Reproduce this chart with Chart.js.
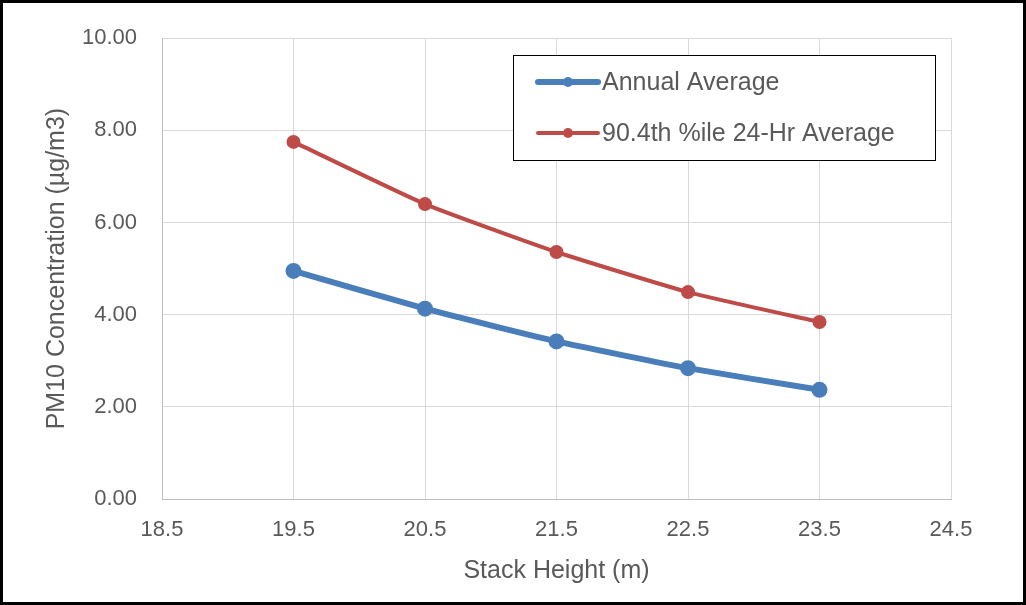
<!DOCTYPE html>
<html>
<head>
<meta charset="utf-8">
<title>PM10 Concentration vs Stack Height</title>
<script src="https://cdn.jsdelivr.net/npm/chart.js@4.4.1/dist/chart.umd.min.js"></script>
<style>
    html, body { margin: 0; padding: 0; background: #fff; }
    canvas { display: block; }
</style>
</head>
<body>
<canvas id="pmChart" width="1026" height="605"></canvas>
<script>
// ---- Data ----
const stackHeights = [19.5, 20.5, 21.5, 22.5, 23.5];
const annualAverage = [4.95, 4.13, 3.42, 2.84, 2.37];
const pctile24Hr = [7.75, 6.40, 5.36, 4.49, 3.84];
const seriesNames = ['Annual Average', '90.4th %ile 24-Hr Average'];

// ---- Style ----
const TEXT = '#595959';
const GRID = '#d9d9d9';
const BLUE = '#4a7ebb';
const RED = '#be4b48';
const FONT = 'Arial, "Liberation Sans", sans-serif';

function toPoints(values) {
    return stackHeights.map((x, i) => ({ x: x, y: values[i] }));
}

// white background + black frame round the picture
const framePlugin = {
    id: 'frame',
    beforeDraw(chart) {
        const ctx = chart.ctx;
        ctx.save();
        ctx.fillStyle = '#fff';
        ctx.fillRect(0, 0, chart.width, chart.height);
        ctx.restore();
    },
    afterDraw(chart) {
        const ctx = chart.ctx;
        ctx.save();
        ctx.strokeStyle = '#000';
        ctx.lineWidth = 3;
        ctx.strokeRect(1.5, 1.5, chart.width - 3, chart.height - 3);
        ctx.restore();
    }
};

// boxed legend sitting inside the plot, top right
const boxLegendPlugin = {
    id: 'boxLegend',
    afterDatasetsDraw(chart) {
        const ctx = chart.ctx;
        const box = { x: 513, y: 55, w: 422, h: 105 };
        ctx.save();
        ctx.fillStyle = '#fff';
        ctx.fillRect(box.x, box.y, box.w, box.h);
        ctx.strokeStyle = '#000';
        ctx.lineWidth = 1;
        ctx.strokeRect(box.x + 0.5, box.y + 0.5, box.w, box.h);

        chart.data.datasets.forEach((ds, i) => {
            const y = box.y + 27 + i * 51;
            const x0 = box.x + 25;
            ctx.strokeStyle = ds.borderColor;
            ctx.lineWidth = ds.borderWidth;
            ctx.lineCap = 'round';
            ctx.beginPath();
            ctx.moveTo(x0, y);
            ctx.lineTo(x0 + 60, y);
            ctx.stroke();
            ctx.fillStyle = ds.pointBackgroundColor;
            ctx.beginPath();
            ctx.arc(x0 + 30, y, ds.pointRadius, 0, Math.PI * 2);
            ctx.fill();

            ctx.fillStyle = TEXT;
            ctx.font = '25px ' + FONT;
            ctx.textAlign = 'left';
            ctx.textBaseline = 'middle';
            ctx.fillText(ds.label, x0 + 64, y + 1);
        });
        ctx.restore();
    }
};

new Chart(document.getElementById('pmChart'), {
    type: 'line',
    data: {
        datasets: [
            {
                label: seriesNames[0],
                data: toPoints(annualAverage),
                borderColor: BLUE,
                backgroundColor: BLUE,
                pointBackgroundColor: BLUE,
                pointBorderColor: BLUE,
                borderWidth: 6,
                pointRadius: 5,
                tension: 0.15
            },
            {
                label: seriesNames[1],
                data: toPoints(pctile24Hr),
                borderColor: RED,
                backgroundColor: RED,
                pointBackgroundColor: RED,
                pointBorderColor: RED,
                borderWidth: 4,
                pointRadius: 5,
                tension: 0.15
            }
        ]
    },
    options: {
        responsive: false,
        animation: false,
        layout: { padding: { top: 34, right: 75, bottom: 15, left: 0 } },
        plugins: {
            legend: { display: false },
            tooltip: { enabled: false }
        },
        scales: {
            x: {
                type: 'linear',
                min: 18.5,
                max: 24.5,
                ticks: {
                    stepSize: 1,
                    color: TEXT,
                    padding: 18,
                    font: { family: FONT, size: 22 },
                    callback: v => v.toFixed(1)
                },
                grid: { color: GRID, drawTicks: false },
                border: { color: '#bfbfbf' },
                title: {
                    display: true,
                    text: 'Stack Height (m)',
                    color: TEXT,
                    font: { family: FONT, size: 25 },
                    padding: { top: 0, bottom: 4 }
                },
                afterFit(scale) { scale.height = 605 - 499 - 15; }
            },
            y: {
                min: 0,
                max: 10,
                ticks: {
                    stepSize: 2,
                    color: TEXT,
                    padding: 25,
                    font: { family: FONT, size: 22 },
                    callback: v => v.toFixed(2)
                },
                grid: { color: GRID, drawTicks: false },
                border: { color: '#bfbfbf' },
                title: {
                    display: true,
                    text: 'PM10 Concentration (µg/m3)',
                    color: TEXT,
                    font: { family: FONT, size: 25 },
                    padding: { top: 42, bottom: 0 }
                },
                afterFit(scale) { scale.width = 162; }
            }
        }
    },
    plugins: [framePlugin, boxLegendPlugin]
});
</script>
</body>
</html>
